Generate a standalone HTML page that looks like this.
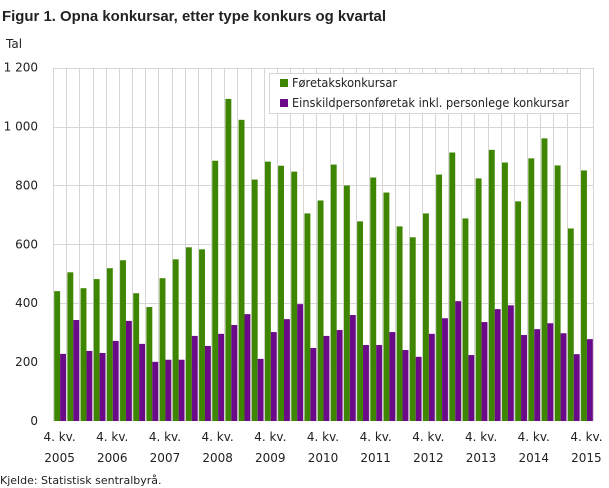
<!DOCTYPE html>
<html><head><meta charset="utf-8"><style>
body{margin:0;background:#fff;}
svg{display:block;font-family:"DejaVu Sans","Liberation Sans",sans-serif;}
</style></head><body>
<svg id="c" width="609" height="488" xmlns="http://www.w3.org/2000/svg">
<text x="2" y="21" font-size="15" font-weight="bold" fill="#222" style="font-family:'Liberation Sans',sans-serif" textLength="384" lengthAdjust="spacingAndGlyphs">Figur 1. Opna konkursar, etter type konkurs og kvartal</text>
<text x="6" y="48" font-size="12" fill="#222">Tal</text>
<g id="grid" stroke="#d6d6d6" stroke-width="1"></g>
<g id="bars"></g>
<g font-size="12" fill="#222" text-anchor="end" id="yl"></g>
<g font-size="12" fill="#222" text-anchor="middle" id="xl"></g>
<rect x="269.5" y="73.5" width="311" height="40" fill="#fff" stroke="#d6d6d6"/>
<rect x="280" y="79" width="8" height="8" fill="#3f8600"/>
<text x="292" y="87" font-size="12" fill="#222" textLength="105" lengthAdjust="spacingAndGlyphs">Føretakskonkursar</text>
<rect x="280" y="99" width="8" height="8" fill="#6a0a88"/>
<text x="292" y="107" font-size="12" fill="#222" textLength="277" lengthAdjust="spacingAndGlyphs">Einskildpersonføretak inkl. personlege konkursar</text>
<text x="0" y="484" font-size="11" fill="#222">Kjelde: Statistisk sentralbyrå.</text>
</svg>
<script>
var g=[441,505,451,482,519,546,434,387,485,549,590,583,884,1094,1023,820,881,867,847,705,749,871,800,678,827,776,661,624,705,837,912,688,824,921,878,746,892,960,868,654,851];
var p=[228,343,238,231,272,340,262,201,208,208,289,255,296,326,363,211,302,346,397,248,289,309,360,258,258,302,241,218,296,349,407,224,336,380,393,292,312,332,298,227,278];
var ns="http://www.w3.org/2000/svg",L=53,R=593,B=421,T=67.7,w=(R-L)/41,k=(B-T)/1200;
function el(t,a,par,txt){var e=document.createElementNS(ns,t);for(var q in a)e.setAttribute(q,a[q]);if(txt!==undefined)e.textContent=txt;document.getElementById(par).appendChild(e);}
for(var i=0;i<=41;i++){var x=Math.round(L+i*w)+0.5;el('line',{x1:x,x2:x,y1:T,y2:B},'grid');}
for(var v=200;v<=1200;v+=200){var y=Math.round(B-v*k)+0.5;el('line',{x1:L,x2:R,y1:y,y2:y},'grid');}
for(var v=0;v<=1200;v+=200){el('text',{x:38,y:B-v*k+4},'yl',v>=1000?(v/1000|0)+' '+String(v%1000).padStart(3,'0'):String(v));}
for(var i=0;i<41;i++){var x=L+i*w;
el('rect',{x:x+1.2,y:B-g[i]*k,width:5.9,height:g[i]*k,fill:'#3f8600'},'bars');
el('rect',{x:x+7.1,y:B-p[i]*k,width:5.9,height:p[i]*k,fill:'#6a0a88'},'bars');}
for(var j=0;j<=10;j++){var cx=L+(j*4+0.5)*w;el('text',{x:cx,y:441},'xl','4. kv.');el('text',{x:cx,y:462},'xl',String(2005+j));}
</script>
</body></html>
